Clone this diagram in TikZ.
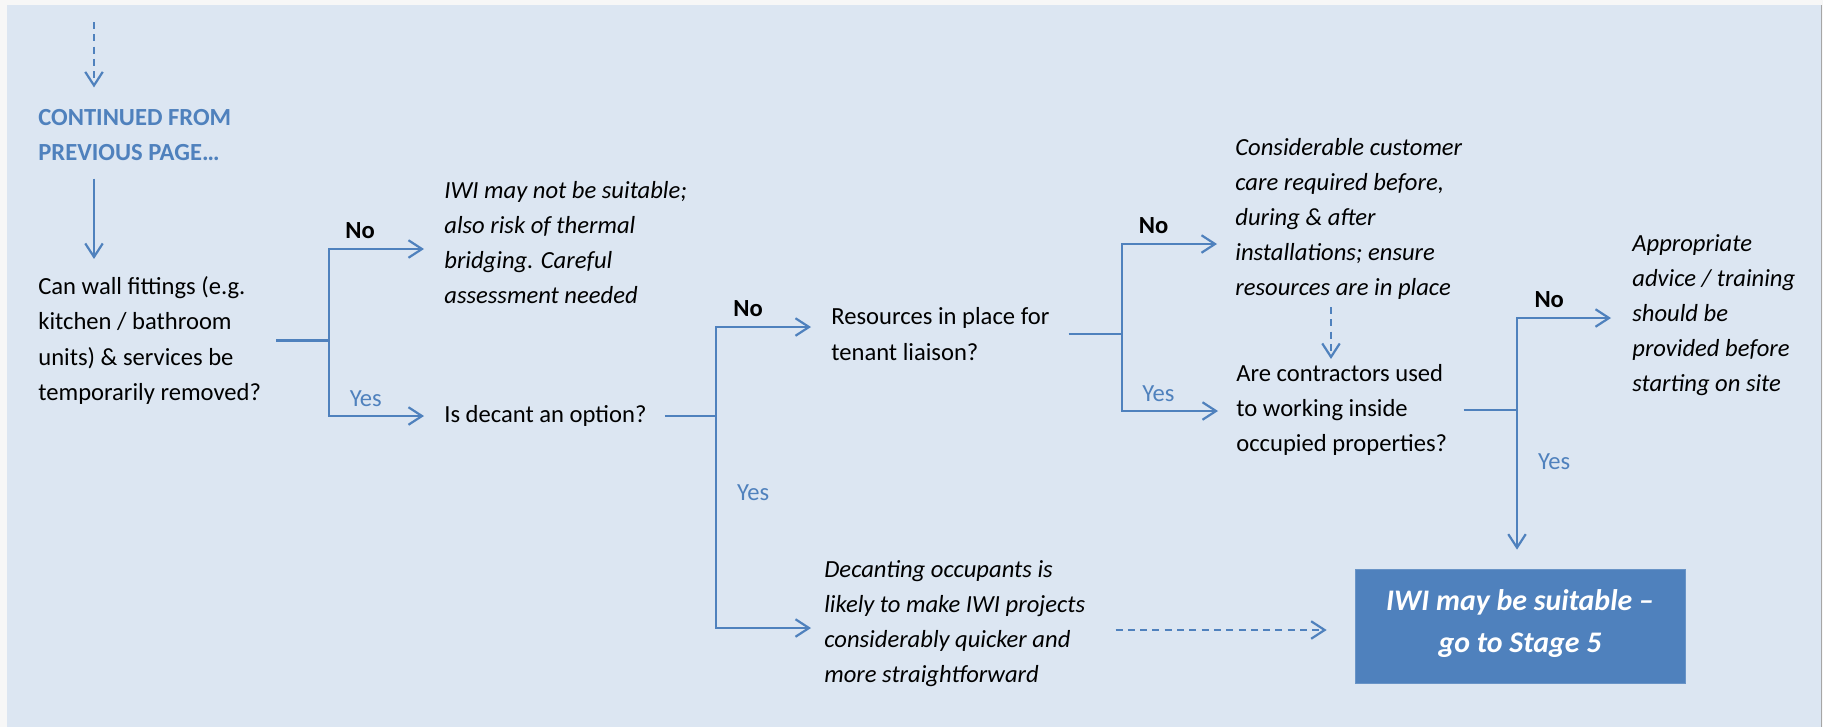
\documentclass[tikz,border=0pt]{standalone}
\usepackage{fontspec}
\setmainfont{Carlito}
\usetikzlibrary{arrows.meta}
\definecolor{flowblue}{HTML}{4F81BD}
\definecolor{panelblue}{HTML}{DCE6F2}

\begin{document}
\begin{tikzpicture}[
    % Styles
    txt/.style={
      font=\fontsize{14}{20}\selectfont,
      align=left,
      inner sep=0pt,
      anchor=west,
    },
    question/.style={txt},
    outcome/.style={txt, font=\fontsize{14}{20}\selectfont\itshape},
    continued/.style={txt, font=\fontsize{14}{20}\selectfont\bfseries, text=flowblue},
    stagebox/.style={
      rectangle,
      fill=flowblue,
      draw=flowblue!85!white,
      minimum width=6.6cm,
      minimum height=2.28cm,
      align=center,
      text=white,
      font=\fontsize{17}{24}\selectfont\bfseries\itshape,
    },
    link/.style={draw=flowblue, line width=1.25pt},
    arr/.style={link, -{Straight Barb[length=2.7mm, width=3.5mm]}},
    dasharr/.style={arr, dash pattern=on 4pt off 3pt},
    nolbl/.style={font=\fontsize{14}{20}\selectfont\bfseries, inner sep=0pt, anchor=base, yshift=2.2mm},
    yeslbl/.style={font=\fontsize{14}{20}\selectfont, text=flowblue, inner sep=0pt, anchor=base, yshift=2mm},
    yesside/.style={font=\fontsize{14}{20}\selectfont, text=flowblue, inner sep=0pt, anchor=base west, xshift=4mm},
  ]
  \useasboundingbox (0,0) rectangle (36.46,-14.54);
  % page and panel
  \fill[gray!6] (0,0) rectangle (36.46,-14.54);
  \fill[panelblue] (0.14,-0.10) rectangle (36.42,-14.54);
  \draw[gray!70, line width=0.8pt] (36.43,-0.10) -- (36.43,-14.54);

  \node[continued] (cont) at (0.76,-2.70) {CONTINUED FROM\\PREVIOUS PAGE…};
  \node[question] (q1) at (0.76,-6.81) {Can wall fittings (e.g.\\kitchen / bathroom\\units) \& services be\\temporarily removed?};
  \node[outcome] (out1) at (8.88,-4.85) {IWI may not be suitable;\\also risk of thermal\\bridging. Careful\\assessment needed};
  \node[question] (q2) at (8.88,-8.32) {Is decant an option?};
  \node[question] (q3) at (16.62,-6.68) {Resources in place for\\tenant liaison?};
  \node[outcome] (out3) at (16.48,-12.47) {Decanting occupants is\\likely to make IWI projects\\considerably quicker and\\more straightforward};
  \node[outcome] (out2) at (24.70,-4.38) {Considerable customer\\care required before,\\during \& after\\installations; ensure\\resources are in place};
  \node[question] (q4) at (24.72,-8.20) {Are contractors used\\to working inside\\occupied properties?};
  \node[outcome] (out4) at (32.64,-6.30) {Appropriate\\advice / training\\should be\\provided before\\starting on site};
  \node[stagebox] (stage5) at (30.40,-12.52) {IWI may be suitable –\\go to Stage 5\rule[-2mm]{0pt}{0pt}};

  % branch points
  \coordinate (entry) at (1.88,-0.44);
  \coordinate (b1) at (6.58,-6.81);
  \coordinate (b2) at (14.32,-8.32);
  \coordinate (b3) at (22.44,-6.68);
  \coordinate (b4) at (30.34,-8.20);
  \coordinate (drop) at (26.62,-6.14);

  \draw[dasharr] (entry) -- ([yshift=4.3mm]entry |- cont.north);
  \draw[arr] ([yshift=-3.5mm]entry |- cont.south) -- ([yshift=3.5mm]entry |- q1.north);

  \draw[link] ([xshift=3mm]q1.east) -- (b1);
  \draw[arr, shorten >=4mm] (b1) |- ([yshift=-1.3mm]out1.west) node[nolbl, pos=0.635] (no1) {No};
  \draw[arr, shorten >=4mm] (b1) |- (q2.west) node[yeslbl, pos=0.66] (yes1) {Yes};

  \draw[link] ([xshift=3.6mm]q2.east) -- (b2);
  \draw[arr, shorten >=4mm] (b2) |- ([yshift=1.4mm]q3.west) node[nolbl, pos=0.64] (no2) {No};
  \draw[arr, shorten >=2.6mm] (b2) |- ([yshift=-0.9mm]out3.west) node[yesside, pos=0.2] (yes2) {Yes};

  \draw[link] ([xshift=3.8mm]q3.east) -- (b3);
  \draw[arr, shorten >=3.6mm] (b3) |- ([yshift=-5mm]out2.west) node[nolbl, pos=0.64] (no3) {No};
  \draw[arr, shorten >=3.6mm] (b3) |- ([yshift=-0.2mm]q4.west) node[yeslbl, pos=0.66] (yes3) {Yes};
  \draw[dasharr] (drop) -- ([yshift=1mm]drop |- q4.north);

  \draw[link] ([xshift=3.2mm]q4.east) -- (b4);
  \draw[arr, shorten >=4.2mm] (b4) |- ([yshift=-0.6mm]out4.west) node[nolbl, pos=0.64] (no4) {No};
  \draw[arr, shorten >=3.8mm] (b4) -- (b4 |- stage5.north) node[yesside, pos=0.375] (yes4) {Yes};

  \draw[dasharr, shorten <=6mm, shorten >=5.6mm] ([yshift=-0.8mm]out3.east |- stage5.west) -- ([yshift=-0.8mm]stage5.west);
\end{tikzpicture}
\end{document}
